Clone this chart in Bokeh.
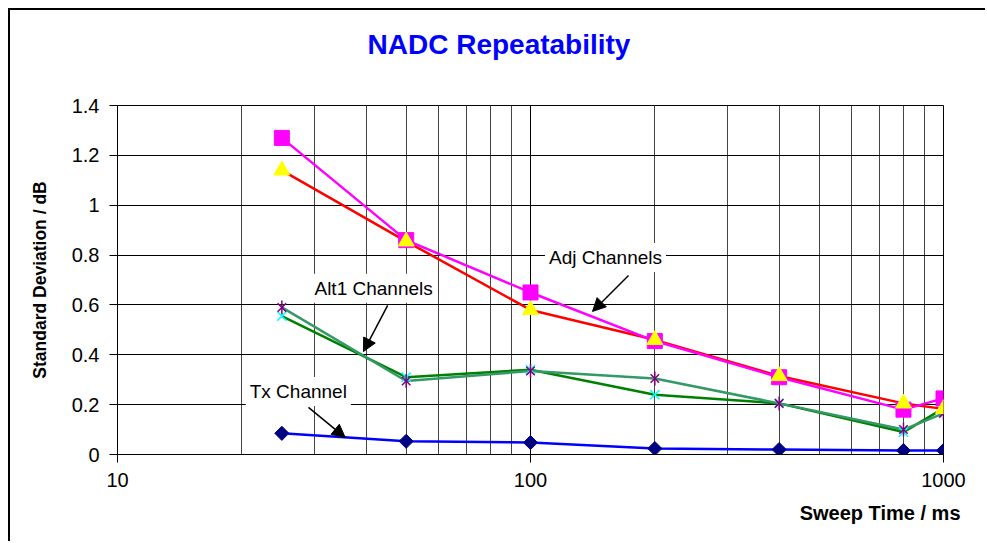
import numpy as np
from bokeh.plotting import figure
from bokeh.models import Label, Arrow, NormalHead, FixedTicker, Title, LinearAxis
from bokeh.embed import file_html
from bokeh.resources import INLINE

# ---- data ----
sweep_ms = [25, 50, 100, 200, 400, 800, 1000]
adj_upper = [1.27, 0.86, 0.65, 0.455, 0.31, 0.18, 0.225]      # magenta squares
adj_lower = [1.14, 0.855, 0.58, 0.46, 0.315, 0.205, 0.183]    # yellow triangles, red line
alt1_upper = [0.59, 0.295, 0.335, 0.305, 0.205, 0.10, 0.165]  # purple stars, sea green line
alt1_lower = [0.555, 0.31, 0.34, 0.24, 0.205, 0.09, 0.185]    # cyan crosses, green line
tx_channel = [0.085, 0.053, 0.048, 0.024, 0.020, 0.016, 0.016]

y_ticks = [0, 0.2, 0.4, 0.6, 0.8, 1.0, 1.2, 1.4]
y_tick_labels = ["0", "0.2", "0.4", "0.6", "0.8", "1", "1.2", "1.4"]
x_ticks = [10, 100, 1000]
x_tick_labels = ["10", "100", "1000"]
x_minor = [20, 30, 40, 50, 60, 70, 80, 90, 200, 300, 400, 500, 600, 700, 800, 900]

FONT = "Liberation Sans"

p = figure(width=977, height=533, x_axis_type="log", x_range=(10, 1000), y_range=(0, 1.4),
           output_backend="svg", toolbar_location=None,
           min_border_left=107, min_border_right=44, min_border_top=95, min_border_bottom=89)
p.styles = {"margin-left": "8px", "margin-top": "8px",
            "border-top": "2px solid black", "border-left": "2px solid black"}
p.background_fill_color = "white"
p.border_fill_color = "white"
p.outline_line_color = "black"
p.outline_line_width = 1

x_axis = p.below[0]
y_axis = p.left[0]
x_ticker = FixedTicker(ticks=x_ticks, minor_ticks=x_minor)
y_ticker = FixedTicker(ticks=y_ticks)

# invisible spacer between the plot area and the title
spacer = LinearAxis(ticker=FixedTicker(ticks=[100]), major_tick_out=41, major_tick_in=0,
                    axis_line_color=None, major_tick_line_color=None,
                    minor_tick_line_color=None, major_label_standoff=0,
                    major_label_text_font_size="2px", major_label_text_color=None)
p.add_layout(spacer, "above")
p.add_layout(Title(text="NADC Repeatability", align="left", offset=250, standoff=10,
                   text_font=FONT, text_font_size="28px", text_font_style="bold",
                   text_color="#0000FF"), "above")

# axes
x_axis.ticker = x_ticker
x_axis.major_label_overrides = {t: l for t, l in zip(x_ticks, x_tick_labels)}
y_axis.ticker = y_ticker
y_axis.major_label_overrides = {t: l for t, l in zip(y_ticks, y_tick_labels)}
for ax in (x_axis, y_axis):
    ax.axis_line_color = "black"
    ax.major_tick_line_color = "black"
    ax.major_tick_out = 8
    ax.major_tick_in = 0
    ax.minor_tick_line_color = None
    ax.major_label_text_font = FONT
    ax.major_label_text_font_size = "20px"
    ax.major_label_text_color = "black"
    ax.major_label_standoff = 10
y_axis.axis_label = "Standard Deviation / dB"
y_axis.axis_label_text_font = FONT
y_axis.axis_label_text_font_size = "17.5px"
y_axis.axis_label_text_font_style = "bold"
y_axis.axis_label_text_color = "black"
y_axis.axis_label_standoff = 19

# x axis label, right aligned under the axis
p.add_layout(Title(text="Sweep Time / ms", align="right", offset=-17, standoff=20,
                   text_font=FONT, text_font_size="20px", text_font_style="bold",
                   text_color="black"), "below")

# grid
xg = p.xgrid[0]
yg = p.ygrid[0]
xg.ticker = x_ticker
yg.ticker = y_ticker
xg.grid_line_color = "black"
xg.minor_grid_line_color = "#444444"
yg.grid_line_color = "black"

# series
p.line(sweep_ms, tx_channel, line_color="#0000FF", line_width=2.5)
p.scatter(sweep_ms, tx_channel, marker="square", angle=np.pi / 4, size=10,
          fill_color="#000080", line_color="#000080")

p.line(sweep_ms, alt1_lower, line_color="#008000", line_width=2.5)
p.line(sweep_ms, alt1_upper, line_color="#339966", line_width=2.5)
p.scatter(sweep_ms, alt1_lower, marker="x", size=13, line_color="#00FFFF", line_width=1.5)
p.scatter(sweep_ms, alt1_upper, marker="x", size=12, line_color="#800080", line_width=1.5)
p.scatter(sweep_ms, alt1_upper, marker="dash", angle=np.pi / 2, size=14,
          line_color="#800080", line_width=1.5)

p.line(sweep_ms, adj_lower, line_color="#FF0000", line_width=2.5)
p.line(sweep_ms, adj_upper, line_color="#FF00FF", line_width=2.5)
p.scatter(sweep_ms, adj_upper, marker="square", size=15, fill_color="#FF00FF", line_color="#FF00FF")
p.scatter(sweep_ms, adj_lower, marker="triangle", size=16, fill_color="#FFFF00", line_color="#FFFF00")

# annotations
def note(x, y, text):
    p.add_layout(Label(x=x, y=y, text=text, text_align="center", text_baseline="middle",
                       text_font=FONT, text_font_size="19px", text_color="black",
                       background_fill_color="white", padding=4))

def pointer(x0, y0, x1, y1):
    p.add_layout(Arrow(end=NormalHead(size=13, fill_color="black", line_color="black"),
                       x_start=x0, y_start=y0, x_end=x1, y_end=y1,
                       line_color="black", line_width=1.5))

pointer(172.7, 0.718, 141.3, 0.574)
pointer(45.1, 0.598, 39.4, 0.413)
pointer(29.0, 0.189, 35.6, 0.068)
note(151.9, 0.790, "Adj Channels")
note(41.7, 0.667, "Alt1 Channels")
note(27.4, 0.253, "Tx Channel")

open("out.html", "w").write(file_html(p, INLINE))
